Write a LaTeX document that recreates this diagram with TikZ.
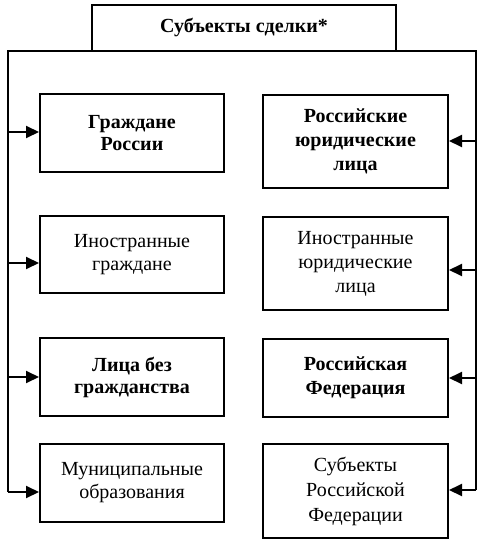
\documentclass[tikz,border=0pt]{standalone}
\usepackage{fontspec}
\setmainfont{Liberation Serif}
\usetikzlibrary{arrows.meta}
\begin{document}
\begin{tikzpicture}[x=1pt,y=-1pt,
  line width=2pt,
  box/.style={draw, line width=2pt, align=center, inner sep=0pt,
    font=\fontsize{20}{23}\selectfont},
  lbox/.style={box, minimum width=184pt, minimum height=78pt},
  rbox/.style={box, minimum width=185pt},
  arr/.style={-{Triangle[length=13pt,width=12pt]}, line width=2pt}]
\useasboundingbox (0,0) rectangle (486,545);
% title
\node[box, minimum width=304pt, minimum height=46pt, font=\bfseries\fontsize{20}{23}\selectfont] (T) at (244,28) {Субъекты сделки*};
% left boxes
\node[lbox, font=\bfseries\fontsize{20}{22}\selectfont] (L1) at (132,133) {Граждане\\России};
\node[lbox, minimum height=77pt] (L2) at (132,254.5) {Иностранные\\граждане};
\node[lbox, font=\bfseries\fontsize{20}{22}\selectfont] (L3) at (132,377) {Лица без\\гражданства};
\node[lbox] (L4) at (132,483) {Муниципальные\\образования};
% right boxes
\node[rbox, minimum height=93pt, font=\bfseries\fontsize{20}{24}\selectfont] (R1) at (355.5,141.5) {Российские\\юридические\\лица};
\node[rbox, minimum height=93pt, font=\fontsize{20}{24}\selectfont] (R2) at (355.5,263.5) {Иностранные\\юридические\\лица};
\node[rbox, minimum height=78pt, font=\bfseries\fontsize{20}{24}\selectfont] (R3) at (355.5,378) {Российская\\Федерация};
\node[rbox, minimum height=94pt, font=\fontsize{20}{25}\selectfont] (R4) at (355.5,491) {Субъекты\\Российской\\Федерации};
% frame
\coordinate (FL) at (8,51);
\coordinate (FR) at (476,51);
\coordinate (FLb) at (8,492);
\coordinate (FRb) at (476,490);
\draw (FLb) -- (FL) -- (FR) -- (FRb);
% left arrows
\draw[arr] (8,132) -- (L1.west |- 0,132);
\draw[arr] (8,263) -- (L2.west |- 0,263);
\draw[arr] (8,377) -- (L3.west |- 0,377);
\draw[arr] (FLb) -- (L4.west |- FLb);
% right arrows
\draw[arr] (476,141) -- (R1.east |- 0,141);
\draw[arr] (476,270) -- (R2.east |- 0,270);
\draw[arr] (476,378) -- (R3.east |- 0,378);
\draw[arr] (FRb) -- (R4.east |- FRb);
\end{tikzpicture}
\end{document}
